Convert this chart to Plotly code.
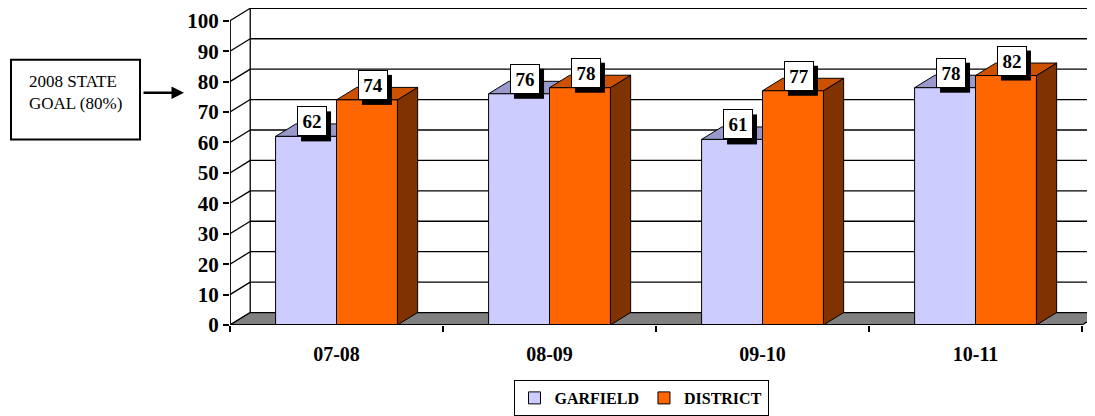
import plotly.graph_objects as go

# data
categories = ["07-08", "08-09", "09-10", "10-11"]
garfield = [62, 76, 61, 78]
district = [74, 78, 77, 82]
y_ticks = [0, 10, 20, 30, 40, 50, 60, 70, 80, 90, 100]

FONT = "Liberation Serif, Times New Roman, serif"
w = 0.286      # bar front width (category units)
dx = 0.095     # depth offset in x (category units)
dy = 4.1       # depth offset in y (value units)
x_lo = -0.5
x_hi = len(categories) - 0.5

# the page body has an 8px margin, so the figure is 8px smaller than the window
W, H = 1087, 408
ML, MB = 222, 90


def poly(pts):
    return "M " + " L ".join(f"{x},{y}" for x, y in pts) + " Z"


shapes = []
# back wall + floor
shapes.append(dict(type="path", layer="below", xref="x", yref="y",
                   path=poly([(x_lo + dx, dy), (x_hi + dx + 1, dy), (x_hi + dx + 1, 100 + dy), (x_lo + dx, 100 + dy)]),
                   fillcolor="white", line=dict(width=0)))
for v in y_ticks:
    if v > 0:
        shapes.append(dict(type="line", layer="below", xref="x", yref="y",
                           x0=x_lo + dx, x1=x_hi + dx + 1, y0=v + dy, y1=v + dy,
                           line=dict(color="black", width=1.3)))
    shapes.append(dict(type="line", layer="below", xref="x", yref="y",
                       x0=x_lo, x1=x_lo + dx, y0=v, y1=v + dy,
                       line=dict(color="black", width=1.3)))
shapes.append(dict(type="line", layer="below", xref="x", yref="y",
                   x0=x_lo + dx, x1=x_lo + dx, y0=dy, y1=100 + dy,
                   line=dict(color="black", width=1.3)))
shapes.append(dict(type="path", layer="below", xref="x", yref="y",
                   path=poly([(x_lo, 0), (x_hi, 0), (x_hi + dx, dy), (x_lo + dx, dy)]),
                   fillcolor="#808080", line=dict(color="black", width=1.3)))


def faces(x0, x1, v, top, side):
    out = []
    out.append(dict(type="path", layer="below", xref="x", yref="y",
                    path=poly([(x1, 0), (x1 + dx, dy), (x1 + dx, v + dy), (x1, v)]),
                    fillcolor=side, line=dict(color="black", width=1)))
    out.append(dict(type="path", layer="below", xref="x", yref="y",
                    path=poly([(x0, v), (x1, v), (x1 + dx, v + dy), (x0 + dx, v + dy)]),
                    fillcolor=top, line=dict(color="black", width=1)))
    return out


for i in range(len(categories)):
    shapes += faces(i - w, i, garfield[i], "#9999CC", "#666699")
    shapes += faces(i, i + w, district[i], "#CC5200", "#803300")

# front axes lines
shapes.append(dict(type="line", xref="x", yref="y", x0=x_lo, x1=x_lo, y0=0, y1=100,
                   line=dict(color="black", width=1.8)))
shapes.append(dict(type="line", xref="x", yref="y", x0=x_lo, x1=x_hi, y0=0, y1=0,
                   line=dict(color="black", width=1.8)))


def px(p):
    return (p - 8 - ML) / (W - ML)


def py(q):
    return (H - MB - (q - 8)) / (H - MB)


# goal box
shapes.append(dict(type="rect", xref="paper", yref="paper",
                   x0=px(11), x1=px(140), y0=py(140), y1=py(60),
                   line=dict(color="black", width=2), fillcolor="white"))

fig = go.Figure()
xs = list(range(len(categories)))
fig.add_trace(go.Bar(x=xs, y=garfield, name="GARFIELD", offset=-w, width=w,
                     marker=dict(color="#CCCCFF", line=dict(color="black", width=1))))
fig.add_trace(go.Bar(x=xs, y=district, name="DISTRICT", offset=0, width=w,
                     marker=dict(color="#FF6600", line=dict(color="black", width=1))))

XS = 6     # label shift right (px)
BOX = 30   # label box size (px)
annotations = []
for series, off in ((garfield, -w / 2), (district, w / 2)):
    for i, v in enumerate(series):
        # drop shadow of the label box
        shapes.append(dict(type="rect", xref="x", yref="y", xsizemode="pixel", ysizemode="pixel",
                           xanchor=i + off, yanchor=v,
                           x0=XS - BOX / 2 + 4, x1=XS + BOX / 2 + 4, y0=-5, y1=BOX - 5,
                           fillcolor="black", line=dict(width=0)))
        annotations.append(dict(x=i + off, y=v, xref="x", yref="y", text=f"<b>{v}</b>", showarrow=False,
                                yanchor="bottom", xshift=XS, width=BOX - 10, height=BOX - 10,
                                font=dict(family=FONT, size=19, color="black"),
                                bgcolor="white", bordercolor="black", borderwidth=1, borderpad=4))

annotations.append(dict(x=px(27), y=py(70), xref="paper", yref="paper", xanchor="left", yanchor="top",
                        align="left", showarrow=False, text="2008 STATE<br>GOAL (80%)",
                        font=dict(family=FONT, size=17, color="black")))
annotations.append(dict(x=px(184), y=py(93), xref="paper", yref="paper", text="", showarrow=True,
                        ax=-42, ay=0, arrowhead=2, arrowsize=1, arrowwidth=2.5, arrowcolor="black"))

fig.update_layout(
    width=W, height=H,
    margin=dict(l=ML, r=0, t=0, b=MB),
    plot_bgcolor="white", paper_bgcolor="white",
    barmode="overlay",
    shapes=shapes,
    annotations=annotations,
    showlegend=True,
    legend=dict(orientation="h", x=px(641), xanchor="center", y=py(399), yanchor="middle",
                bordercolor="black", borderwidth=1, itemwidth=30,
                font=dict(family=FONT, size=16, color="black", weight="bold")),
    xaxis=dict(range=[x_lo, x_lo + (W - ML) / 213], tickvals=xs, ticktext=categories,
               showgrid=False, zeroline=False, showline=False, ticks="",
               ticklabelstandoff=15,
               tickfont=dict(family=FONT, size=20, color="black", weight="bold"),
               minor=dict(tickmode="array", tickvals=[x_lo + k for k in range(len(categories) + 1)],
                          ticks="outside", ticklen=6, tickwidth=1.5, tickcolor="black", showgrid=False)),
    yaxis=dict(range=[0, 104.2], tickvals=y_ticks, showgrid=False, zeroline=False, showline=False,
               ticks="outside", ticklen=6, tickwidth=1.5, tickcolor="black",
               tickfont=dict(family=FONT, size=21, color="black", weight="bold")),
)

fig.write_html("out.html")
